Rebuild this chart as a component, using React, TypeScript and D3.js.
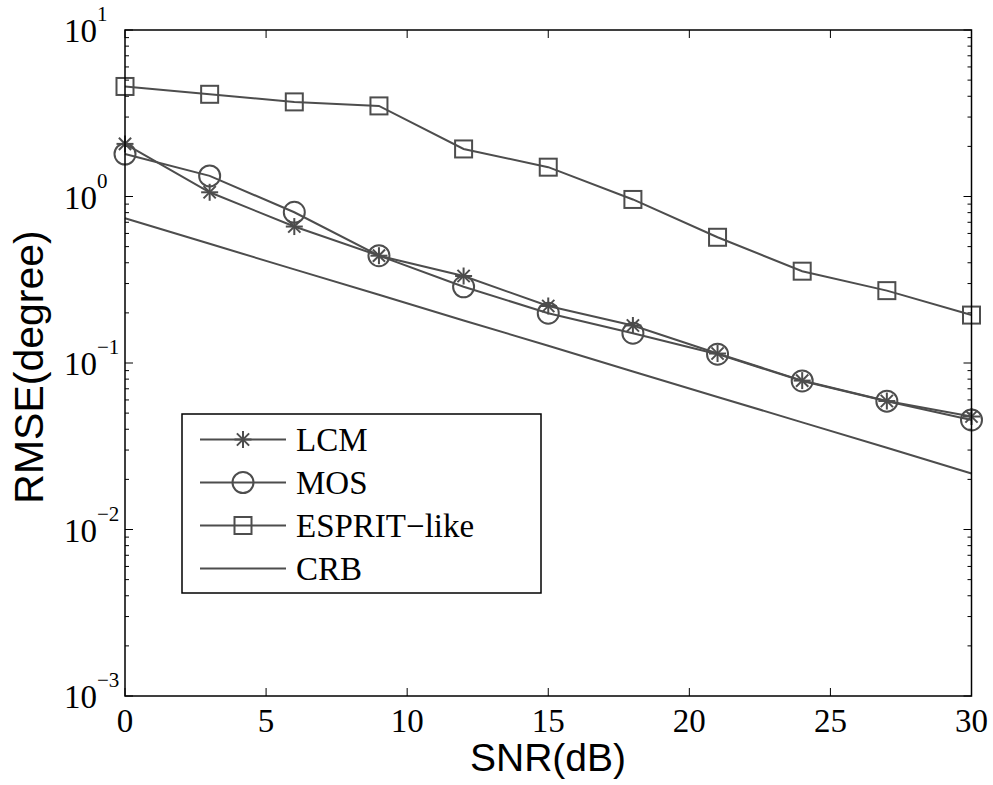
import React from "react";
import * as d3 from "d3";

const snr = [0, 3, 6, 9, 12, 15, 18, 21, 24, 27, 30];
const lcm = [2.07, 1.06, 0.66, 0.441, 0.333, 0.22, 0.168, 0.114, 0.0784, 0.0591, 0.0477];
const mos = [1.8, 1.33, 0.804, 0.441, 0.287, 0.199, 0.151, 0.113, 0.078, 0.059, 0.0455];
const esprit = [4.58, 4.11, 3.7, 3.5, 1.93, 1.5, 0.96, 0.569, 0.356, 0.272, 0.194];
const crb = [0.74, 0.52, 0.365, 0.257, 0.18, 0.127, 0.089, 0.0625, 0.044, 0.031, 0.0217];
const xTicks = [0, 5, 10, 15, 20, 25, 30];
const yExponents = [1, 0, -1, -2, -3];
const legendLabels = ["LCM", "MOS", "ESPRIT\u2212like", "CRB"];

const W = 993, H = 785;
const L = 125, R = 971.5, T = 30, B = 696;
const GREY = "#4d4d4d";
const SERIF = "'Liberation Serif', 'Times New Roman', serif";
const SANS = "'Liberation Sans', Arial, sans-serif";

type Marker = "star" | "circle" | "square" | "none";

function MarkerShape({ kind, x, y }: { kind: Marker; x: number; y: number }) {
  const s = 8.5;
  if (kind === "circle") return <circle cx={x} cy={y} r={10.5} fill="none" stroke={GREY} strokeWidth={2} />;
  if (kind === "square") return <rect x={x - 8.5} y={y - 8.5} width={17} height={17} fill="none" stroke={GREY} strokeWidth={2} />;
  if (kind === "star") {
    const d = s * 0.72;
    return (
      <g stroke={GREY} strokeWidth={2}>
        <line x1={x - s} y1={y} x2={x + s} y2={y} />
        <line x1={x} y1={y - s} x2={x} y2={y + s} />
        <line x1={x - d} y1={y - d} x2={x + d} y2={y + d} />
        <line x1={x - d} y1={y + d} x2={x + d} y2={y - d} />
      </g>
    );
  }
  return null;
}

export default function App() {
  const x = d3.scaleLinear().domain([0, 30]).range([L, R]);
  const y = d3.scaleLog().domain([1e-3, 10]).range([B, T]);
  const line = d3.line<[number, number]>().x((d) => x(d[0])).y((d) => y(d[1]));

  const series: { vals: number[]; marker: Marker }[] = [
    { vals: lcm, marker: "star" },
    { vals: mos, marker: "circle" },
    { vals: esprit, marker: "square" },
    { vals: crb, marker: "none" },
  ];

  const minor: number[] = [];
  for (let e = -3; e < 1; e++) for (let m = 2; m <= 9; m++) minor.push(m * Math.pow(10, e));

  const legX = 182, legY = 414, legW = 359, legH = 179;
  const rowY = [439.5, 482.5, 525.5, 568.5];

  return (
    <svg width={W} height={H} style={{ position: "absolute", left: 0, top: 0, background: "#fff" }}>
      <rect x={0} y={0} width={W} height={H} fill="#fff" />
      {/* ticks */}
      <g stroke="#000" strokeWidth={1}>
        {xTicks.map((t) => (
          <g key={"xt" + t}>
            <line x1={x(t)} x2={x(t)} y1={B} y2={B - 8} />
            <line x1={x(t)} x2={x(t)} y1={T} y2={T + 8} />
          </g>
        ))}
        {yExponents.map((e) => (
          <g key={"yt" + e}>
            <line x1={L} x2={L + 8} y1={y(Math.pow(10, e))} y2={y(Math.pow(10, e))} />
            <line x1={R} x2={R - 8} y1={y(Math.pow(10, e))} y2={y(Math.pow(10, e))} />
          </g>
        ))}
        {minor.map((v, i) => (
          <g key={"mn" + i}>
            <line x1={L} x2={L + 4} y1={y(v)} y2={y(v)} />
            <line x1={R} x2={R - 4} y1={y(v)} y2={y(v)} />
          </g>
        ))}
      </g>
      {/* series */}
      {series.map((s, i) => {
        const pts = snr.map((d, j) => [d, s.vals[j]] as [number, number]);
        return (
          <g key={"s" + i}>
            <path d={line(pts) || ""} fill="none" stroke={GREY} strokeWidth={2} />
            {pts.map((p, j) => (
              <MarkerShape key={j} kind={s.marker} x={x(p[0])} y={y(p[1])} />
            ))}
          </g>
        );
      })}
      {/* axes box */}
      <rect x={L} y={T} width={R - L} height={B - T} fill="none" stroke="#000" strokeWidth={1.5} />
      {/* tick labels */}
      {xTicks.map((t) => (
        <text key={"xl" + t} x={x(t)} y={B + 36} textAnchor="middle" fontFamily={SERIF} fontSize={33} fill="#000">
          {t}
        </text>
      ))}
      {yExponents.map((e) => {
        const yy = y(Math.pow(10, e));
        return (
          <text key={"yl" + e} x={64} y={yy + 12} fontFamily={SERIF} fontSize={33} fill="#000">
            10
            <tspan fontSize={21} dy={-21}>{e < 0 ? "\u2212" + Math.abs(e) : String(e)}</tspan>
          </text>
        );
      })}
      {/* axis labels */}
      <text x={548} y={771} textAnchor="middle" fontFamily={SANS} fontSize={39} fill="#000">
        SNR(dB)
      </text>
      <text transform="translate(43,367) rotate(-90)" textAnchor="middle" fontFamily={SANS} fontSize={41} fill="#000">
        RMSE(degree)
      </text>
      {/* legend */}
      <rect x={legX} y={legY} width={legW} height={legH} fill="#fff" stroke="#000" strokeWidth={1.5} />
      {legendLabels.map((lab, i) => (
        <g key={"lg" + i}>
          <line x1={200} x2={286} y1={rowY[i]} y2={rowY[i]} stroke={GREY} strokeWidth={2} />
          <MarkerShape kind={series[i].marker} x={243} y={rowY[i]} />
          <text x={296} y={rowY[i] + 11.5} fontFamily={SERIF} fontSize={33} fill="#000">
            {lab}
          </text>
        </g>
      ))}
    </svg>
  );
}
